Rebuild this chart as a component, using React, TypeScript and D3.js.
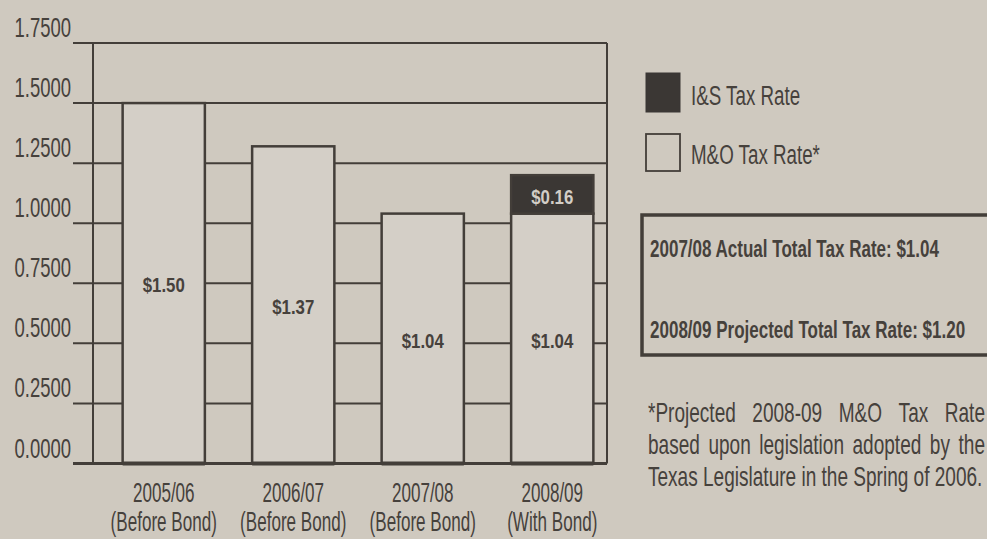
import React, { useEffect, useRef } from "react";
import * as d3 from "d3";

// ---- data ----
const categories = ["2005/06", "2006/07", "2007/08", "2008/09"];
const categoryNotes = ["(Before Bond)", "(Before Bond)", "(Before Bond)", "(With Bond)"];
// M&O tax rate as drawn (bar heights)
const moValues = [1.5, 1.32, 1.04, 1.04];
// I&S tax rate
const isValues = [0, 0, 0, 0.16];
const moLabels = ["$1.50", "$1.37", "$1.04", "$1.04"];
const isLabels = ["", "", "", "$0.16"];
const yTicks = [0, 0.25, 0.5, 0.75, 1.0, 1.25, 1.5, 1.75];
const legendItems = ["I&S Tax Rate", "M&O Tax Rate*"];
const boxLines = [
  "2007/08 Actual Total Tax Rate: $1.04",
  "2008/09 Projected Total Tax Rate: $1.20",
];
const footJustified = [
  ["*Projected", "2008-09", "M&O", "Tax", "Rate"],
  ["based", "upon", "legislation", "adopted", "by", "the"],
];
const footLast = "Texas Legislature in the Spring of 2006.";

// ---- style ----
const W = 987;
const H = 539;
const BG = "#cfc9bf";
const BAR_FILL = "#d4cfc7";
const DARK = "#3b3734";
const INK = "#433e39";
const TEXT = "#46413c";
const FONT = "'Liberation Sans', Arial, Helvetica, sans-serif";
const FOOT_X = 648;
const FOOT_W = 337;
const FOOT_SX = 0.68;

type TProps = {
  x: number;
  y: number;
  sx: number;
  size: number;
  anchor?: "start" | "middle" | "end";
  bold?: boolean;
  fill?: string;
  children: React.ReactNode;
};
const T = ({ x, y, sx, size, anchor = "start", bold = false, fill = TEXT, children }: TProps) => (
  <text
    transform={`translate(${x},${y}) scale(${sx},1)`}
    textAnchor={anchor}
    fontSize={size}
    fontWeight={bold ? 700 : 400}
    fontFamily={FONT}
    fill={fill}
  >
    {children}
  </text>
);

export default function App() {
  const footRef = useRef<SVGGElement>(null);

  const y = d3.scaleLinear().domain([0, 1.75]).range([463.5, 43]);
  const x = d3
    .scaleBand<string>()
    .domain(categories)
    .range([99, 617])
    .paddingInner(0.365)
    .paddingOuter(0.1825);

  const plotLeft = 93;
  const plotRight = 607;
  const tickStart = 73;
  const fmt = d3.format(".4f");

  useEffect(() => {
    if (!footRef.current) return;
    d3.select(footRef.current)
      .selectAll<SVGGElement, unknown>("g.just")
      .each(function () {
        const texts = d3.select(this).selectAll<SVGTextElement, unknown>("text").nodes();
        const widths = texts.map((t) => t.getComputedTextLength());
        const total = widths.reduce((a, b) => a + b, 0);
        const gap = (FOOT_W / FOOT_SX - total) / (texts.length - 1);
        let cx = 0;
        texts.forEach((t, i) => {
          t.setAttribute("x", String(cx));
          cx += widths[i] + gap;
        });
      });
  }, []);

  return (
    <svg
      width={W}
      height={H}
      viewBox={`0 0 ${W} ${H}`}
      style={{ position: "absolute", left: 0, top: 0, display: "block" }}
    >
      <rect x={0} y={0} width={W} height={H} fill={BG} />

      {/* gridlines / ticks */}
      {yTicks.map((t) => (
        <line
          key={"g" + t}
          x1={tickStart}
          x2={plotRight}
          y1={y(t)}
          y2={y(t)}
          stroke={INK}
          strokeWidth={t === 0 ? 3 : 2}
        />
      ))}
      {/* frame verticals */}
      <line x1={plotLeft} x2={plotLeft} y1={y(1.75)} y2={y(0)} stroke={INK} strokeWidth={2} />
      <line x1={plotRight} x2={plotRight} y1={y(1.75)} y2={y(0)} stroke={INK} strokeWidth={2} />

      {/* tick labels */}
      {yTicks.map((t) => (
        <T key={"tl" + t} x={71} y={y(t) - 6} sx={0.66} size={28} anchor="end">
          {fmt(t)}
        </T>
      ))}

      {/* bars */}
      {categories.map((c, i) => {
        const bx = x(c)!;
        const bw = x.bandwidth();
        const moTop = y(moValues[i]);
        const isTop = y(moValues[i] + isValues[i]);
        return (
          <g key={c}>
            <rect
              x={bx}
              y={moTop}
              width={bw}
              height={y(0) - moTop}
              fill={BAR_FILL}
              stroke={INK}
              strokeWidth={2.5}
            />
            {isValues[i] > 0 && (
              <rect
                x={bx}
                y={isTop}
                width={bw}
                height={moTop - isTop}
                fill={DARK}
                stroke={INK}
                strokeWidth={2.5}
              />
            )}
            <line x1={bx} x2={bx + bw} y1={y(0)} y2={y(0)} stroke={INK} strokeWidth={4} />
            <T
              x={bx + bw / 2}
              y={(moTop + y(0)) / 2 + 9}
              sx={0.8}
              size={21}
              anchor="middle"
              bold
              fill={TEXT}
            >
              {moLabels[i]}
            </T>
            {isValues[i] > 0 && (
              <T
                x={bx + bw / 2}
                y={(isTop + moTop) / 2 + 10}
                sx={0.8}
                size={21}
                anchor="middle"
                bold
                fill="#d2cdc6"
              >
                {isLabels[i]}
              </T>
            )}
            <T x={bx + bw / 2} y={501.5} sx={0.61} size={28} anchor="middle">
              {c}
            </T>
            <T x={bx + bw / 2} y={531} sx={0.61} size={28} anchor="middle">
              {categoryNotes[i]}
            </T>
          </g>
        );
      })}

      {/* legend */}
      <rect x={646} y={73} width={34} height={39} fill={DARK} stroke={DARK} strokeWidth={1} />
      <T x={691} y={105} sx={0.67} size={28}>
        {legendItems[0]}
      </T>
      <rect x={646} y={134} width={34} height={37} fill={BG} stroke={INK} strokeWidth={1.8} />
      <T x={691} y={164} sx={0.67} size={28}>
        {legendItems[1]}
      </T>

      {/* info box */}
      <rect x={642} y={215} width={400} height={140} fill="none" stroke={INK} strokeWidth={3.5} />
      <T x={650} y={256.5} sx={0.74} size={23} bold>
        {boxLines[0]}
      </T>
      <T x={650} y={338} sx={0.74} size={23} bold>
        {boxLines[1]}
      </T>

      {/* footnote */}
      <g ref={footRef} transform={`translate(${FOOT_X},0) scale(${FOOT_SX},1)`}>
        {footJustified.map((words, li) => (
          <g className="just" key={"fl" + li}>
            {words.map((w, wi) => (
              <text
                key={w + wi}
                x={0}
                y={422.5 + li * 32}
                fontSize={28}
                fontFamily={FONT}
                fill={TEXT}
              >
                {w}
              </text>
            ))}
          </g>
        ))}
        <text x={0} y={486.5} fontSize={28} fontFamily={FONT} fill={TEXT}>
          {footLast}
        </text>
      </g>
    </svg>
  );
}
